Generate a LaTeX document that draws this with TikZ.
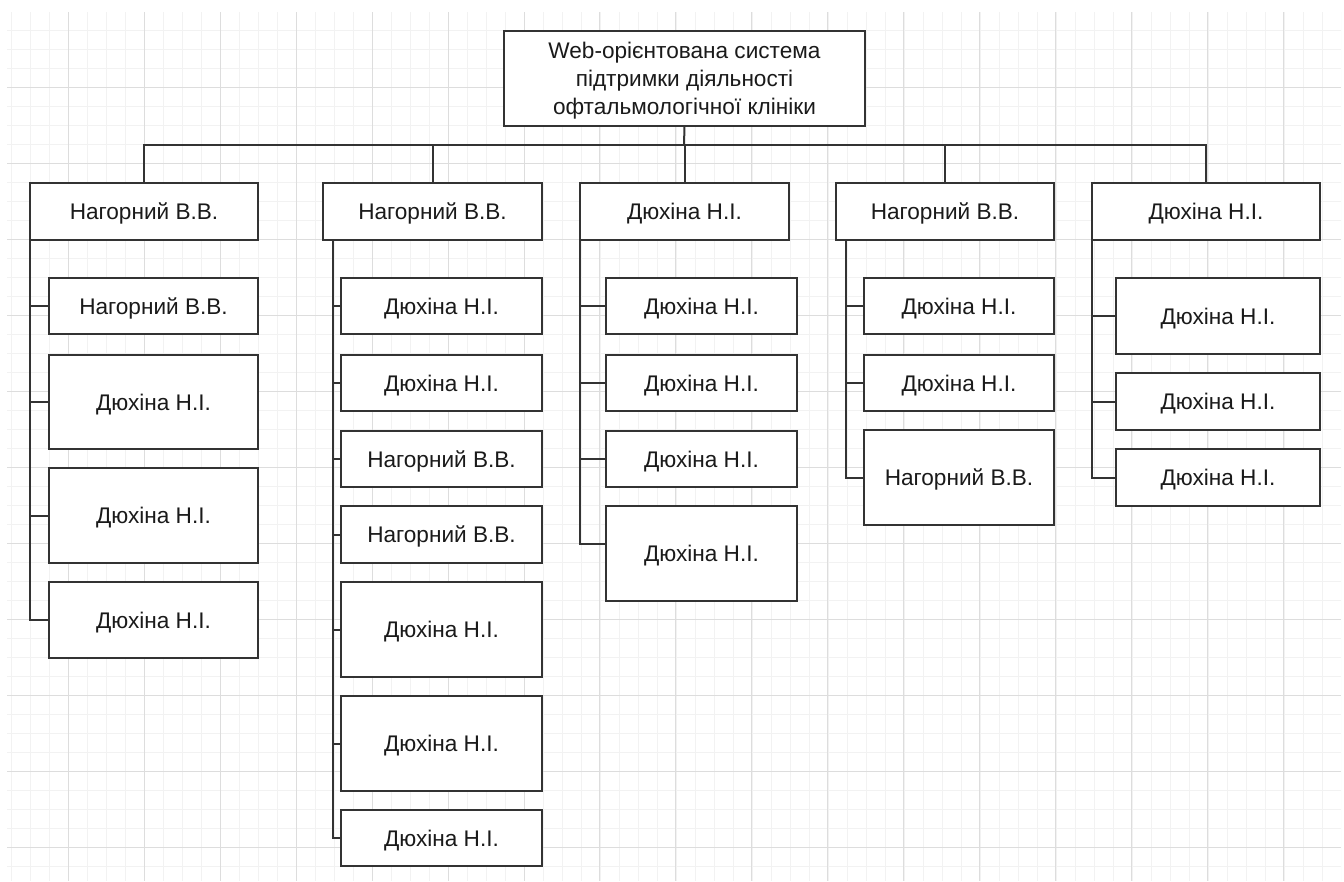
\documentclass[tikz,border=0pt]{standalone}
\usepackage{fontspec}
\setmainfont{Liberation Sans}
\definecolor{gridminor}{HTML}{F2F2F2}
\definecolor{gridmajor}{HTML}{DDDDDD}
\definecolor{linec}{HTML}{333333}
\definecolor{textc}{HTML}{1A1A1A}
\tikzset{
  box/.style={draw=linec, line width=2pt, fill=white, inner sep=0pt, outer sep=0pt,
    font=\fontsize{22.6}{27.7}\selectfont, text=textc, align=center, text depth=0pt},
  conn/.style={draw=linec, line width=2pt},
  gminor/.style={draw=gridminor, line width=1pt},
  gmajor/.style={draw=gridmajor, line width=1pt}
}
\newcommand\bx[6]{\node[box, minimum width={#4-#2}, minimum height={#5-#3}] (#1) at ({(#2+#4)/2},{(#3+#5)/2}) {#6};}
\begin{document}
\begin{tikzpicture}[x=1pt,y=-1pt]
\useasboundingbox (0,0) rectangle (1344,881);
\fill[white] (0,0) rectangle (1344,881);
\begin{scope}
\clip (7,12) rectangle (1341,881);
\foreach \i in {0,...,70} {\draw[gminor] ({11.3+19*\i},12) -- ({11.3+19*\i},881);}
\foreach \i in {0,...,46} {\draw[gminor] (7,{11+19*\i}) -- (1341,{11+19*\i});}
\foreach \i in {-1,...,17} {\draw[gmajor] ({68.3+75.95*\i},12) -- ({68.3+75.95*\i},881);}
\foreach \i in {-1,...,11} {\draw[gmajor] (7,{87+76*\i}) -- (1341,{87+76*\i});}
\end{scope}

% top
\bx{top}{504}{31}{865}{126}{Web-орієнтована система\\підтримки діяльності\\офтальмологічної клініки}
% level 1
\bx{la}{30}{183}{258}{240}{Нагорний В.В.}
\bx{lb}{323}{183}{542}{240}{Нагорний В.В.}
\bx{lc}{580}{183}{789}{240}{Дюхіна Н.І.}
\bx{ld}{836}{183}{1054}{240}{Нагорний В.В.}
\bx{le}{1092}{183}{1320}{240}{Дюхіна Н.І.}
% column 1
\bx{aa}{49}{278}{258}{334}{Нагорний В.В.}
\bx{ab}{49}{355}{258}{449}{Дюхіна Н.І.}
\bx{ac}{49}{468}{258}{563}{Дюхіна Н.І.}
\bx{ad}{49}{582}{258}{658}{Дюхіна Н.І.}
% column 2
\bx{ba}{341}{278}{542}{334}{Дюхіна Н.І.}
\bx{bb}{341}{355}{542}{411}{Дюхіна Н.І.}
\bx{bc}{341}{431}{542}{487}{Нагорний В.В.}
\bx{bd}{341}{506}{542}{563}{Нагорний В.В.}
\bx{be}{341}{582}{542}{677}{Дюхіна Н.І.}
\bx{bf}{341}{696}{542}{791}{Дюхіна Н.І.}
\bx{bg}{341}{810}{542}{866}{Дюхіна Н.І.}
% column 3
\bx{ca}{606}{278}{797}{334}{Дюхіна Н.І.}
\bx{cb}{606}{355}{797}{411}{Дюхіна Н.І.}
\bx{cc}{606}{431}{797}{487}{Дюхіна Н.І.}
\bx{cd}{606}{506}{797}{601}{Дюхіна Н.І.}
% column 4
\bx{da}{864}{278}{1054}{334}{Дюхіна Н.І.}
\bx{db}{864}{355}{1054}{411}{Дюхіна Н.І.}
\bx{dc}{864}{430}{1054}{525}{Нагорний В.В.}
% column 5
\bx{ea}{1116}{278}{1320}{354}{Дюхіна Н.І.}
\bx{eb}{1116}{373}{1320}{430}{Дюхіна Н.І.}
\bx{ec}{1116}{449}{1320}{506}{Дюхіна Н.І.}

% bus
\coordinate (bus) at (684,145);
\draw[conn] (top.south) -- (bus);
\draw[conn] (la.north) |- (bus) -| (le.north);
\draw[conn] (lb.north) -- (lb.north |- bus);
\draw[conn] (lc.north) -- (lc.north |- bus);
\draw[conn] (ld.north) -- (ld.north |- bus);

% spines
\coordinate (sa) at (la.south west);
\coordinate (sb) at ([xshift=10pt]lb.south west);
\coordinate (sc) at (lc.south west);
\coordinate (sd) at ([xshift=10pt]ld.south west);
\coordinate (se) at (le.south west);
\foreach \c in {aa,ab,ac,ad} {\draw[conn] (sa) |- (\c.west);}
\foreach \c in {ba,bb,bc,bd,be,bf,bg} {\draw[conn] (sb) |- (\c.west);}
\foreach \c in {ca,cb,cc} {\draw[conn] (sc) |- (\c.west);}
\draw[conn] (sc) |- ([yshift=9.5pt]cd.west);
\foreach \c in {da,db,dc} {\draw[conn] (sd) |- (\c.west);}
\foreach \c in {ea,eb,ec} {\draw[conn] (se) |- (\c.west);}
\end{tikzpicture}
\end{document}
